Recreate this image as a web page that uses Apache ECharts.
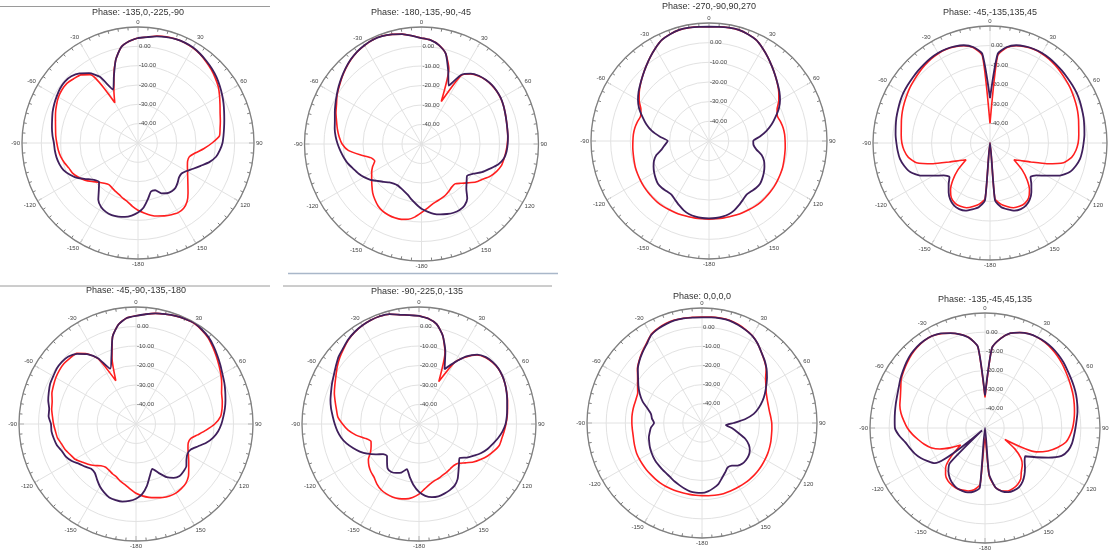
<!DOCTYPE html>
<html>
<head>
<meta charset="utf-8">
<title>Phase patterns</title>
<script src="https://cdn.jsdelivr.net/npm/echarts@6/dist/echarts.min.js"></script>
<style>
  html, body { margin: 0; padding: 0; background: #fff; }
  #chart { width: 1109px; height: 550px; }
</style>
</head>
<body>
<div id="chart"></div>
<script>
// sample angles (deg, clockwise, 0 = top)
const angles = [
  0, 5, 10, 15, 20, 25, 30, 35, 40, 45, 50, 55,
  60, 65, 70, 75, 80, 85, 90, 95, 100, 105, 110, 115,
  120, 125, 130, 135, 140, 145, 150, 155, 160, 165, 170, 175,
  180, 185, 190, 195, 200, 205, 210, 215, 220, 225, 230, 235,
  240, 245, 250, 255, 260, 265, 270, 275, 280, 285, 290, 295,
  300, 305, 310, 315, 320, 325, 330, 335, 340, 345, 350, 355
];
const angleLabels = ['0', '30', '60', '90', '120', '150', '-180', '-150', '-120', '-90', '-60', '-30'];
const radiusTicks = [-40, -30, -20, -10, 0];
const radiusLabels = ['-40.00', '-30.00', '-20.00', '-10.00', '0.00'];

const titles = [
  'Phase: -135,0,-225,-90',
  'Phase: -180,-135,-90,-45',
  'Phase: -270,-90,90,270',
  'Phase: -45,-135,135,45',
  'Phase: -45,-90,-135,-180',
  'Phase: -90,-225,0,-135',
  'Phase: 0,0,0,0',
  'Phase: -135,-45,45,135'
];

// gain in dB, one value per entry of angles
const p1Red = [
  4.3, 5, 6.2, 6.9, 7.2, 7.2, 6.8, 6, 4.8, 3.6, 2.2, 0.7,
  -1.3, -3.2, -4.8, -5.9, -6.9, -7.7, -11.7, -15.9, -20, -22.5, -22.7, -21.8,
  -20.4, -18.6, -16.3, -13.4, -10.5, -8.8, -8.4, -9.1, -9.9, -10.9, -12.1, -13.7,
  -15.2, -17.1, -19.1, -20.3, -21.6, -22.4, -23.2, -23.7, -22.8, -21.3, -19, -16.5,
  -14.5, -12.8, -12, -10.6, -9.4, -8.6, -8, -7.3, -6.7, -5.8, -4.6, -3.5,
  -2.5, -2, -2, -3, -4, -6.8, -26, -20.5, -13.5, -5.5, 0.3, 2.8
];
const p1Purple = [
  4.3, 5, 6, 6.7, 7.2, 7.3, 7, 6.2, 5.2, 4.2, 3, 1.6,
  0.2, -1.2, -2.6, -3.8, -4.8, -5.6, -6.3, -7.5, -9, -11.8, -15.5, -18.5,
  -21, -22.5, -22.3, -21, -19.8, -19.5, -20, -21.3, -24, -24, -20.5, -16.5,
  -14, -12.3, -11.2, -10.6, -10.3, -10.7, -11.8, -14.2, -18.5, -21.5, -20.3, -17.5,
  -13.8, -11.2, -9, -7.9, -7.2, -6.8, -6.5, -5.6, -4.8, -4, -3, -2.2,
  -1.5, -0.8, -0.6, -1.2, -3, -5.9, -10.5, -19.5, -13.5, -5.5, 0.3, 2.8
];

const p2Red = [
  4.3, 3.5, 1.5, -2, -9, -26, -9.5, -6.2, -4.5, -3.5, -3, -2.9,
  -3.1, -3.6, -4.3, -4.9, -5.3, -5.6, -6, -6.5, -7, -7.5, -9, -11,
  -13.8, -16, -19, -21.5, -23.3, -23, -22, -21, -20.3, -19.6, -18.6, -16.8,
  -14.8, -12.5, -10.8, -10, -9.7, -9.8, -10.2, -11.2, -12.8, -14.6, -16.8, -18.8,
  -20.5, -22.3, -24.5, -23, -18, -12.3, -9.3, -7.6, -6.2, -4.9, -3.3, -1.9,
  0, 1.5, 3.2, 4.9, 6.4, 7.6, 8.4, 9, 8.9, 8.2, 7.2, 5.7
];
const p2Purple = [
  4.3, 3.5, 1.5, -2, -10, -17, -9, -6, -4.3, -3.4, -2.9, -2.8,
  -3, -3.6, -4.3, -4.9, -5.3, -5.5, -5.8, -6.2, -7.1, -9.3, -12.8, -15.8,
  -19.5, -21.5, -19.8, -17.5, -13.5, -11.5, -10.9, -11.1, -11.8, -12.6, -13.6, -15.2,
  -16.8, -19, -21, -23, -24.2, -25, -25.5, -25.2, -24.3, -22.5, -20.5, -18,
  -16, -14.3, -12.8, -11, -9.6, -8.3, -7, -5.8, -4.8, -4, -2.7, -1.3,
  0.2, 1.8, 3.4, 5, 6.5, 7.7, 8.5, 9, 8.9, 8.2, 7.2, 5.7
];

const p3Red = [
  8.1, 8.3, 8.5, 8.5, 7.8, 6.7, 4.5, 2.1, -0.3, -2.5, -4.6, -6.7,
  -9, -11.8, -13, -12.3, -11.7, -11.4, -11.3, -11.1, -10.9, -10.6, -10.2, -10,
  -9.8, -9.6, -9.5, -9.4, -9.3, -9.4, -9.6, -9.7, -9.9, -10.1, -10.2, -10.3,
  -10.3, -10.3, -10.2, -10.1, -9.9, -9.7, -9.6, -9.4, -9.3, -9.4, -9.5, -9.6,
  -9.8, -10, -10.2, -10.6, -10.9, -11.1, -11.3, -11.4, -11.7, -12.3, -13, -11.8,
  -9, -6.7, -4.6, -2.5, -0.3, 2.1, 4.5, 6.7, 7.8, 8.5, 8.5, 8.3
];
const p3Purple = [
  8.1, 8.3, 8.5, 8.5, 7.8, 6.7, 4.5, 2.1, -0.3, -2.5, -4.5, -6.3,
  -8.3, -10.8, -14, -17, -20.3, -24, -27.5, -27.3, -25.6, -22.3, -20.2, -18.9,
  -17.8, -16.9, -16.1, -16.2, -16.6, -16.7, -15.5, -14, -12.5, -11.4, -10.9, -10.7,
  -10.7, -10.7, -10.9, -11.4, -12.5, -14, -15.5, -16.7, -16.6, -16.2, -16.1, -16.9,
  -17.8, -18.9, -20.2, -22.3, -25.6, -27.5, -29, -25, -20.5, -17, -14, -10.8,
  -8.3, -6.3, -4.5, -2.5, -0.3, 2.1, 4.5, 6.7, 7.8, 8.5, 8.5, 8.3
];

const p4Red = [
  -40, -5, -0.3, 1.6, 2.5, 3, 3, 2.6, 2, 1.3, 0.6, 0,
  -0.8, -1.5, -2.2, -3, -3.8, -4.3, -4.8, -5.8, -7.5, -11, -19, -27,
  -32, -35, -28.4, -23, -18.5, -15.5, -14.3, -14.2, -14.7, -16.3, -18.2, -21.5,
  -50, -21.5, -18.2, -16.3, -14.7, -14.2, -14.3, -15.5, -18.5, -23, -28.4, -35,
  -32, -27, -19, -11, -7.5, -5.8, -4.8, -4.3, -3.8, -3, -2.2, -1.5,
  -0.8, 0, 0.6, 1.3, 2, 2.6, 3, 3, 2.5, 1.6, -0.3, -5
];
const p4Purple = [
  -27, -4, 0, 1.9, 2.7, 3.2, 3.3, 3.1, 2.7, 2.3, 1.9, 1.6,
  1.3, 0.8, 0.2, -0.3, -0.9, -1.4, -2, -2.5, -3.1, -4.5, -6.5, -10.5,
  -16.5, -21, -22.9, -20, -17, -14.5, -13, -12.6, -13.1, -14.8, -16.6, -20.5,
  -50, -20.5, -16.6, -14.8, -13.1, -12.6, -13, -14.5, -17, -20, -22.9, -21,
  -16.5, -10.5, -6.5, -4.5, -3.1, -2.5, -2, -1.4, -0.9, -0.3, 0.2, 0.8,
  1.3, 1.6, 1.9, 2.3, 2.7, 3.1, 3.3, 3.2, 2.7, 1.9, 0, -4
];

const p5Red = [
  5.5, 6.5, 7.6, 8.3, 9, 9.4, 9.6, 8.8, 7.6, 5.7, 3.8, 2,
  0.3, -1.5, -3.3, -4.2, -5.2, -6.5, -9.6, -13.9, -17.9, -21, -21.5, -20.6,
  -19, -17, -14.7, -12, -10.3, -9.5, -9.1, -9.3, -9.9, -10.9, -11.8, -13,
  -14.5, -16.5, -18.3, -19.5, -21, -21.7, -22.5, -22.9, -22, -19.9, -17.9, -16.1,
  -13.9, -12.8, -11.4, -10.5, -9.1, -8.5, -7.7, -7, -6.1, -5.5, -4.1, -3.3,
  -2.5, -2, -1.8, -2.2, -2.7, -6, -11.5, -25.5, -14, -3.6, 1.8, 4.6
];
const p5Purple = [
  5.5, 6.5, 7.6, 8.3, 9, 9.5, 9.8, 9, 8, 6.3, 4.5, 2.8,
  1.2, 0, -1.3, -2.5, -3.7, -5, -6.2, -7.7, -9.8, -12.7, -16.3, -19,
  -19.5, -18.4, -16.3, -15.6, -15.2, -16.3, -18.5, -22.2, -25.5, -22.5, -17.8, -13.9,
  -11.7, -10.4, -9.6, -9.6, -9.9, -11.3, -13, -15.2, -17.2, -17.5, -16, -14.4,
  -12, -10.3, -9.5, -8, -7.2, -6.5, -6.4, -5, -4.8, -3.4, -2.4, -1.4,
  -1, -0.4, -0.4, -1, -3, -6.3, -11, -18.7, -13.2, -3.6, 1.8, 4.6
];

const p6Red = [
  5.5, 4.3, 2, -3, -11, -26, -13.5, -8, -3.8, -1.8, -0.8, -0.4,
  -0.7, -1.3, -2.2, -3, -3.9, -4.6, -5.4, -6.2, -6.9, -7.4, -9.2, -11.2,
  -13.6, -16, -19, -21.5, -22.2, -22, -21.5, -21.1, -20.4, -19.8, -18.6, -16.6,
  -14, -12.2, -11, -10.4, -10.2, -10.5, -11.1, -12.4, -14.2, -15.2, -16.5, -18.3,
  -21.3, -22.9, -23.8, -21.5, -17.2, -13.5, -10.8, -8.2, -7, -5.5, -3.8, -2.4,
  -0.8, 1.2, 3, 4.6, 6.3, 7.5, 8.3, 8.7, 8.8, 8.3, 6.9, 6
];
const p6Purple = [
  5.5, 4.3, 2, -3, -10.5, -19, -13.5, -7.7, -3.5, -1.5, -0.6, -0.3,
  -0.6, -1.3, -2.2, -3.2, -4.1, -4.8, -5.6, -7, -8.8, -10.8, -12.6, -14.8,
  -17.5, -20, -22.8, -21, -18.5, -15.5, -13.5, -12.6, -12, -11.6, -11.9, -13,
  -15.2, -18.5, -22.5, -26, -23.5, -22.3, -21.6, -22, -24.5, -26.8, -26, -22.8,
  -19.5, -16.5, -14, -11.5, -9.5, -8, -6.8, -5.6, -4.2, -3, -2, -0.8,
  0.4, 2, 3.8, 5, 6.5, 7.6, 8.3, 8.7, 8.8, 8.3, 6.9, 6
];

const p7Red = [
  5.3, 5.5, 5.6, 5.5, 4.8, 3.8, 2.6, 0.6, -1.8, -4, -6.3, -9.5,
  -11.5, -13, -13.8, -14.2, -14.3, -14, -13.6, -13.4, -13.2, -12.8, -12.5, -12.2,
  -12, -11.8, -11.6, -11.5, -11.5, -11.5, -11.6, -11.6, -11.6, -11.5, -11.7, -11.9,
  -12.1, -12.2, -12.2, -12.2, -12.1, -12, -11.9, -11.9, -12, -12.1, -12.1, -12.2,
  -12.3, -12.4, -12.8, -13.2, -13.5, -13.5, -13.4, -13.3, -13.3, -13.4, -13.4, -13,
  -11.2, -9, -6, -3.7, -1.5, 0.6, 3.2, 4.4, 5.2, 5.6, 5.5, 5.4
];
const p7Purple = [
  5.1, 5.3, 5.4, 5.3, 4.6, 3.6, 2.5, 0.6, -1.8, -3.8, -6, -8.6,
  -11.3, -13.8, -16.4, -19.3, -22.6, -27.5, -33.5, -37.5, -34, -30.5, -26, -23,
  -21.2, -20.3, -20, -20.1, -21, -22.8, -23.2, -21.5, -19.5, -17, -15.5, -14.2,
  -13.5, -13.5, -13.8, -14.6, -15.5, -16.3, -17.2, -17.8, -18.1, -18.4, -18.6, -19,
  -19.5, -20, -20.7, -21.3, -22.3, -23.3, -25, -23.8, -23, -20.5, -17, -14.2,
  -11.7, -9.3, -6.3, -3.9, -1.8, 0.3, 3, 4.2, 4.9, 5.4, 5.4, 5.2
];

const p8Red = [
  -34, -8, -2.5, 1.2, 3, 4.2, 4.6, 4.5, 4, 3.3, 2.4, 1.4,
  0.5, -0.3, -1, -1.8, -2.6, -3.4, -4.3, -5.5, -7.2, -10.8, -15, -20.5,
  -38, -31, -25.5, -22.5, -20.5, -17.5, -16, -15.2, -15, -16, -18.5, -25,
  -45, -20.5, -17.3, -16, -15.5, -15.2, -15.6, -16.3, -18, -21, -27, -34.5,
  -29.5, -24, -20, -17.2, -14.7, -12, -9.5, -7.5, -5.5, -4, -3, -1.5,
  0.5, 1.8, 3, 4.2, 5, 5.5, 5.4, 4.3, 2.6, 0.6, -2.2, -7.5
];
const p8Purple = [
  -33, -8, -2.5, 1.2, 3, 4.2, 4.7, 4.8, 4.6, 4.1, 3.4, 2.5,
  1.8, 1.2, 0.6, -0.2, -1, -2, -2.8, -3.4, -3.9, -5, -7.5, -13.5,
  -19.5, -24.3, -23, -20.5, -18, -15.8, -14.4, -14.1, -14.4, -15.8, -18.5, -26,
  -50, -18.8, -16.3, -15.2, -15.1, -15.4, -16.4, -18, -20.3, -24, -48, -18,
  -15.5, -13, -11, -9.4, -7.7, -5, -3, -2.7, -2.3, -1.8, -1.2, -0.3,
  1, 2.2, 3.5, 4.6, 5.3, 5.6, 5.4, 4.5, 2.7, 0.6, -2.2, -7.5
];

const redSeries = [p1Red, p2Red, p3Red, p4Red, p5Red, p6Red, p7Red, p8Red];
const purpleSeries = [p1Purple, p2Purple, p3Purple, p4Purple, p5Purple, p6Purple, p7Purple, p8Purple];

// panel placement: centre, radius, title position
const layout = [
  { cx: 138, cy: 143, r: 116, tx: 138, ty: 13 },
  { cx: 421.5, cy: 144, r: 117, tx: 421, ty: 13 },
  { cx: 709, cy: 141, r: 118, tx: 709, ty: 6.5 },
  { cx: 990, cy: 143, r: 117, tx: 990, ty: 12.5 },
  { cx: 136, cy: 424, r: 117, tx: 136, ty: 291 },
  { cx: 419, cy: 424, r: 117, tx: 417, ty: 291.5 },
  { cx: 702, cy: 423, r: 115, tx: 702, ty: 296.5 },
  { cx: 985, cy: 428, r: 115, tx: 985, ty: 299.5 }
];

const toData = (vals) => angles.map((a, i) => [vals[i], a]).concat([[vals[0], 360]]);

const chart = echarts.init(document.getElementById('chart'));

const series = [];
layout.forEach((l, i) => {
  series.push({
    type: 'line',
    coordinateSystem: 'polar',
    polarIndex: i,
    data: toData(redSeries[i]),
    symbol: 'none',
    smooth: 0.2,
    silent: true,
    lineStyle: { color: '#ff1f1f', width: 1.6 }
  });
  series.push({
    type: 'line',
    coordinateSystem: 'polar',
    polarIndex: i,
    data: toData(purpleSeries[i]),
    symbol: 'none',
    smooth: 0.2,
    silent: true,
    lineStyle: { color: '#3f1f5c', width: 1.8 }
  });
});

const graphic = layout.map((l, i) => ({
  type: 'text',
  x: l.tx,
  y: l.ty,
  style: {
    text: titles[i],
    align: 'center',
    verticalAlign: 'middle',
    fontSize: 9,
    fontFamily: 'Liberation Sans',
    fill: '#333'
  }
}));
// stray rules from the original screenshot collage
graphic.push(
  { type: 'line', shape: { x1: 0, y1: 6.5, x2: 270, y2: 6.5 }, style: { stroke: '#9a9a9a', lineWidth: 1 } },
  { type: 'line', shape: { x1: 288, y1: 273.5, x2: 558, y2: 273.5 }, style: { stroke: '#a9b7c9', lineWidth: 1.5 } },
  { type: 'line', shape: { x1: 0, y1: 286, x2: 270, y2: 286 }, style: { stroke: '#9a9a9a', lineWidth: 1 } },
  { type: 'line', shape: { x1: 283, y1: 286, x2: 552, y2: 286 }, style: { stroke: '#9a9a9a', lineWidth: 1 } }
);

const option = {
  animation: false,
  backgroundColor: '#fff',
  polar: layout.map((l) => ({ center: [l.cx, l.cy], radius: l.r })),
  angleAxis: layout.map((l, i) => ({
    polarIndex: i,
    type: 'value',
    min: 0,
    max: 360,
    interval: 30,
    startAngle: 90,
    clockwise: true,
    axisLine: { lineStyle: { color: '#808080', width: 1.3 } },
    axisTick: { show: true, inside: true, length: 5, lineStyle: { color: '#808080' } },
    minorTick: { show: true, splitNumber: 6, length: 3, lineStyle: { color: '#808080' } },
    splitLine: { show: true, lineStyle: { color: '#e2e2e2', width: 1 } },
    axisLabel: {
      fontSize: 6,
      margin: 2,
      color: '#444',
      fontFamily: 'Liberation Sans',
      formatter: (v) => (v >= 360 ? '' : angleLabels[Math.round(v / 30)])
    }
  })),
  radiusAxis: layout.map((l, i) => ({
    polarIndex: i,
    type: 'value',
    min: -50,
    max: 10,
    interval: 10,
    axisLine: { show: false },
    axisTick: { show: false },
    splitLine: { show: true, lineStyle: { color: '#e2e2e2', width: 1 } },
    axisLabel: {
      fontSize: 6,
      margin: -1,
      align: 'left',
      color: '#444',
      fontFamily: 'Liberation Sans',
      formatter: (v) => {
        const k = radiusTicks.indexOf(v);
        return k >= 0 ? radiusLabels[k] : '';
      }
    }
  })),
  graphic: graphic,
  series: series
};

chart.setOption(option);
</script>
</body>
</html>
